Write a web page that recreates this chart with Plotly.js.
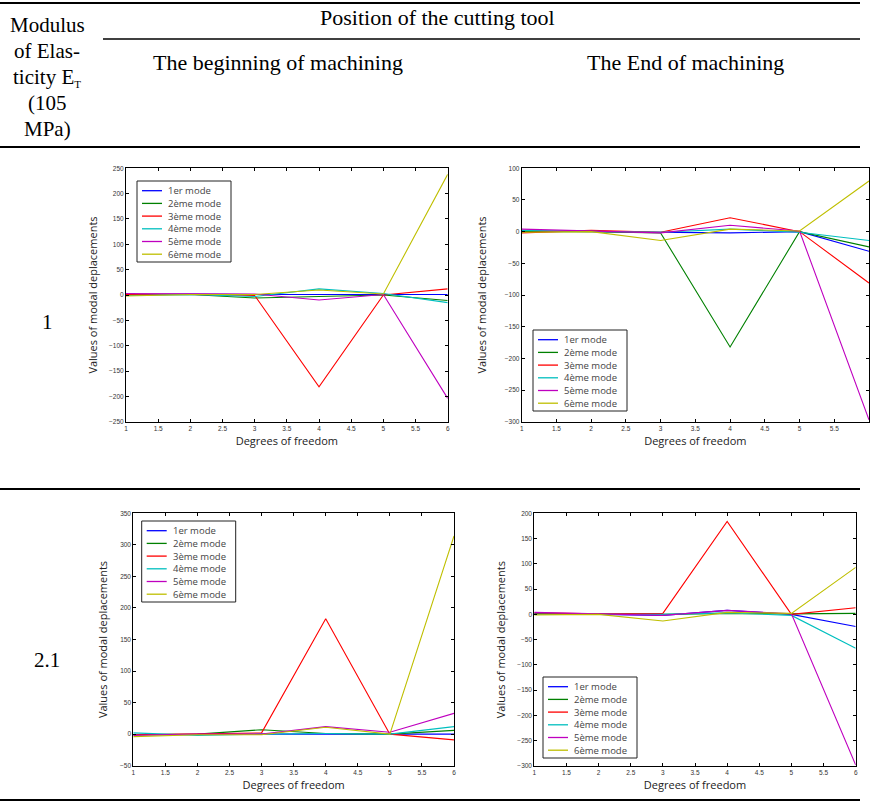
<!DOCTYPE html>
<html>
<head>
<meta charset="utf-8">
<script src="https://cdn.plot.ly/plotly-3.0.1.min.js"></script>
<style>
  html, body { margin: 0; padding: 0; background: #fff; }
  #chart { width: 870px; height: 804px; }
</style>
</head>
<body>
<div id="chart"></div>
<script>
// Degrees of freedom on the x axis
const dof = [1, 2, 3, 4, 5, 6];
const xTickVals = [1, 1.5, 2, 2.5, 3, 3.5, 4, 4.5, 5, 5.5, 6];
const modeNames = ['1er mode', '2ème mode', '3ème mode', '4ème mode', '5ème mode', '6ème mode'];

// Modal displacements, one row per mode (1er ... 6ème), one value per degree of freedom
// E_T = 1, beginning of machining
const e1Begin = [
  [1, 2, 1, 1, 1, 1],
  [0, 1, -6, -3, 0, -11],
  [1, 1, -1, -181, 0, 12],
  [-1, 1, -3, 12, 3, -15],
  [3, 3, 2, -10, 1, -204],
  [-2, 1, 1, 10, 2, 238]
];
// E_T = 1, end of machining
const e1End = [
  [1, 0, -2, -2, 0, -31],
  [0, 0, -2, -182, 0, -24],
  [-2, 2, -1, 22, 0, -81],
  [2, 0, -1, 4, -1, -14],
  [4, 1, -2, 10, 1, -297],
  [-1, 0, -14, 4, 1, 80]
];
// E_T = 2.1, beginning of machining
const e21Begin = [
  [-1, 0, 0, 0, 0, 0],
  [-1, 0, 7, 1, 0, 6],
  [-1, 0, 2, 183, 0, -9],
  [2, -2, 0, 1, 0, 12],
  [-2, 0, 0, 12, 3, 33],
  [-4, -1, -1, 11, 0, 314]
];
// E_T = 2.1, end of machining
const e21End = [
  [2, 0, -2, 8, 0, -24],
  [1, 0, 0, 2, 1, 2],
  [3, 1, 2, 184, 0, 13],
  [0, 0, 0, 3, -2, -67],
  [4, 1, -2, 8, 1, -298],
  [-1, 0, -13, 4, 2, 93]
];

// y-axis ranges of the four panels
const rangeE1Begin = [-250, 250];
const rangeE1End = [-300, 100];
const rangeE21Begin = [-50, 350];
const rangeE21End = [-300, 200];

// ---- styling / layout ----
const W = 870, H = 804;
const px = x => x / W;
const py = y => 1 - y / H;
const modeColors = ['#0000ff', '#008000', '#ff0000', '#00bfbf', '#bf00bf', '#bfbf00'];

const panels = [
  { data: e1Begin, range: rangeE1Begin, box: [126, 447.7, 168.3, 421.7], legend: [137, 181], ytStand: 9, xtStand: 6 },
  { data: e1End, range: rangeE1End, box: [521.7, 869, 168.3, 421.7], legend: [533, 330], ytStand: 15, xtStand: 6 },
  { data: e21Begin, range: rangeE21Begin, box: [133.3, 454, 513.3, 765.7], legend: [141.7, 521], ytStand: 10, xtStand: 6 },
  { data: e21End, range: rangeE21End, box: [534.3, 855.7, 513.3, 766], legend: [543, 677], ytStand: 9, xtStand: 6 }
];

const tickFont = { family: 'Liberation Sans, Arial, sans-serif', size: 6.5, color: '#333' };
const titleFont = { family: 'Open Sans, sans-serif', size: 11, color: '#222' };
const legendFont = { family: 'Open Sans, sans-serif', size: 9.5, color: '#444' };
const headFont = { family: 'Liberation Serif, Times New Roman, serif', size: 22, color: '#000' };
const sideFont = { family: 'Liberation Serif, Times New Roman, serif', size: 21, color: '#000' };

const traces = [];
const layout = {
  width: W, height: H,
  margin: { l: 0, r: 0, t: 0, b: 0 },
  paper_bgcolor: '#fff', plot_bgcolor: '#fff',
  showlegend: false,
  shapes: [], annotations: []
};

panels.forEach((p, i) => {
  const n = i === 0 ? '' : String(i + 1);
  const [x0, x1, y0, y1] = p.box;
  p.data.forEach((ys, m) => {
    traces.push({
      type: 'scatter', mode: 'lines',
      x: dof, y: ys, name: modeNames[m],
      xaxis: 'x' + n, yaxis: 'y' + n,
      line: { color: modeColors[m], width: 1.1 },
      hoverinfo: 'x+y+name'
    });
  });
  const common = {
    showline: true, linecolor: '#000', linewidth: 1, mirror: 'ticks',
    ticks: 'inside', ticklen: 3, tickwidth: 1, tickcolor: '#000',
    showgrid: false, zeroline: false, tickfont: tickFont, automargin: false
  };
  layout['xaxis' + n] = Object.assign({}, common, {
    domain: [px(x0), px(x1)], anchor: 'y' + n,
    range: [dof[0], dof[dof.length - 1]], tickmode: 'array', tickvals: xTickVals,
    title: { text: 'Degrees of freedom', font: titleFont, standoff: p.xtStand }
  });
  layout['yaxis' + n] = Object.assign({}, common, {
    domain: [py(y1), py(y0)], anchor: 'x' + n,
    range: p.range, dtick: 50, tick0: 0,
    title: { text: 'Values of modal deplacements', font: titleFont, standoff: p.ytStand }
  });

  // MATLAB-style legend box
  const [lx, ly] = p.legend;
  layout.shapes.push({
    type: 'rect', xref: 'paper', yref: 'paper',
    x0: px(lx), x1: px(lx + 94), y0: py(ly + 81), y1: py(ly),
    line: { color: '#222', width: 1 }, fillcolor: '#fff'
  });
  modeNames.forEach((name, m) => {
    const yy = ly + 9.7 + m * 12.7;
    layout.shapes.push({
      type: 'line', xref: 'paper', yref: 'paper',
      x0: px(lx + 5), x1: px(lx + 25), y0: py(yy), y1: py(yy),
      line: { color: modeColors[m], width: 1.3 }
    });
    layout.annotations.push({
      xref: 'paper', yref: 'paper', x: px(lx + 30), y: py(yy),
      xanchor: 'left', yanchor: 'middle', showarrow: false, borderpad: 0,
      text: name, font: legendFont
    });
  });
});

// table rules
const rules = [
  [0, 860, 3, 2], [103, 860, 39, 1.5], [0, 860, 147, 2], [0, 860, 489, 2], [0, 860, 800, 2]
];
rules.forEach(([a, b, y, w]) => {
  layout.shapes.push({
    type: 'line', xref: 'paper', yref: 'paper',
    x0: px(a), x1: px(b), y0: py(y), y1: py(y),
    line: { color: '#000', width: w }
  });
});

// table texts
const headTexts = [
  ['Position of the cutting tool', 437, 18],
  ['The beginning of machining', 278, 62],
  ['The End of machining', 685, 62]
];
const sideTexts = [
  ['Modulus', 47, 25],
  ['of Elas-', 47, 51],
  ['ticity E<sub><span style="font-size:11px">T</span></sub>', 47, 77],
  ['(105', 47, 103],
  ['MPa)', 47, 129],
  ['1', 47, 322],
  ['2.1', 47, 660]
];
[[headTexts, headFont], [sideTexts, sideFont]].forEach(([list, font]) => {
  list.forEach(([t, x, y]) => {
    layout.annotations.push({
      xref: 'paper', yref: 'paper', x: px(x), y: py(y),
      xanchor: 'center', yanchor: 'middle', showarrow: false,
      text: t, font: font
    });
  });
});

Plotly.newPlot('chart', traces, layout, { displayModeBar: false, staticPlot: true });
</script>
</body>
</html>
